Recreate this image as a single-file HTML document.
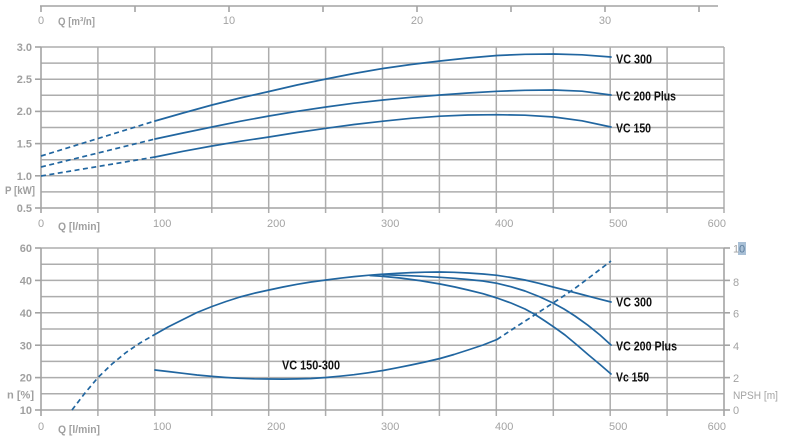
<!DOCTYPE html>
<html>
<head>
<meta charset="utf-8">
<style>
  html,body{margin:0;padding:0;background:#fff;}
  svg{display:block;}
  .g{stroke:#adadad;stroke-width:1.5;fill:none;}
  .ax{stroke:#a3a3a3;stroke-width:1.6;fill:none;}
  .c{stroke:#2166a0;stroke-width:1.7;fill:none;stroke-linejoin:round;stroke-linecap:round;}
  .d{stroke:#2166a0;stroke-width:1.7;fill:none;stroke-dasharray:5 3.5;}
  .yl{font-family:"Liberation Sans",sans-serif;font-size:11px;font-weight:bold;fill:#a0a0a0;}
  .xl{font-family:"Liberation Sans",sans-serif;font-size:11px;fill:#a3a3a3;}
  .lb{font-family:"Liberation Sans",sans-serif;font-size:12.5px;font-weight:bold;fill:#111;}
</style>
</head>
<body>
<svg width="785" height="445" viewBox="0 0 785 445" xmlns="http://www.w3.org/2000/svg">
  <!-- Top m3/h axis -->
  <line class="ax" x1="40" y1="6" x2="718" y2="6"/>
  <g class="ax">
    <line x1="41" y1="6" x2="41" y2="12"/>
    <line x1="135" y1="6" x2="135" y2="12"/>
    <line x1="229" y1="6" x2="229" y2="12"/>
    <line x1="323" y1="6" x2="323" y2="12"/>
    <line x1="417" y1="6" x2="417" y2="12"/>
    <line x1="511" y1="6" x2="511" y2="12"/>
    <line x1="605" y1="6" x2="605" y2="12"/>
    <line x1="699" y1="6" x2="699" y2="12"/>
  </g>
  <text class="xl" x="41" y="24" text-anchor="middle">0</text>
  <text class="yl" x="58" y="25" textLength="37" lengthAdjust="spacingAndGlyphs">Q [m³/n]</text>
  <text class="xl" x="229" y="24" text-anchor="middle">10</text>
  <text class="xl" x="417" y="24" text-anchor="middle">20</text>
  <text class="xl" x="605" y="24" text-anchor="middle">30</text>

  <!-- ===== TOP CHART GRID ===== -->
  <g class="g">
    <line x1="41" y1="47" x2="724" y2="47"/>
    <line x1="41" y1="63.1" x2="724" y2="63.1"/>
    <line x1="41" y1="79.2" x2="724" y2="79.2"/>
    <line x1="41" y1="95.3" x2="724" y2="95.3"/>
    <line x1="41" y1="111.4" x2="724" y2="111.4"/>
    <line x1="41" y1="127.5" x2="724" y2="127.5"/>
    <line x1="41" y1="143.6" x2="724" y2="143.6"/>
    <line x1="41" y1="159.7" x2="724" y2="159.7"/>
    <line x1="41" y1="175.8" x2="724" y2="175.8"/>
    <line x1="41" y1="191.9" x2="724" y2="191.9"/>
    <line x1="97.9" y1="47" x2="97.9" y2="213"/>
    <line x1="154.8" y1="47" x2="154.8" y2="213"/>
    <line x1="211.8" y1="47" x2="211.8" y2="213"/>
    <line x1="268.7" y1="47" x2="268.7" y2="213"/>
    <line x1="325.6" y1="47" x2="325.6" y2="213"/>
    <line x1="382.5" y1="47" x2="382.5" y2="213"/>
    <line x1="439.4" y1="47" x2="439.4" y2="213"/>
    <line x1="496.3" y1="47" x2="496.3" y2="213"/>
    <line x1="553.3" y1="47" x2="553.3" y2="213"/>
    <line x1="610.2" y1="47" x2="610.2" y2="213"/>
    <line x1="667.1" y1="47" x2="667.1" y2="213"/>
    <line x1="724" y1="47" x2="724" y2="213"/>
  </g>
  <g class="ax">
    <line x1="41" y1="47" x2="41" y2="213"/>
    <line x1="41" y1="208" x2="724" y2="208"/>
    <line x1="35" y1="47" x2="41" y2="47"/>
    <line x1="35" y1="79.2" x2="41" y2="79.2"/>
    <line x1="35" y1="111.4" x2="41" y2="111.4"/>
    <line x1="35" y1="143.6" x2="41" y2="143.6"/>
    <line x1="35" y1="175.8" x2="41" y2="175.8"/>
    <line x1="35" y1="208" x2="41" y2="208"/>
  </g>
  <!-- top y labels -->
  <text class="yl" x="32" y="51" text-anchor="end">3.0</text>
  <text class="yl" x="32" y="83" text-anchor="end">2.5</text>
  <text class="yl" x="32" y="115" text-anchor="end">2.0</text>
  <text class="yl" x="32" y="147.5" text-anchor="end">1.5</text>
  <text class="yl" x="32" y="180" text-anchor="end">1.0</text>
  <text class="yl" x="5" y="194" textLength="30" lengthAdjust="spacingAndGlyphs">P [kW]</text>
  <text class="yl" x="32" y="212" text-anchor="end">0.5</text>
  <!-- top x labels -->
  <text class="xl" x="41" y="227" text-anchor="middle">0</text>
  <text class="yl" x="58" y="230" textLength="42" lengthAdjust="spacingAndGlyphs">Q [l/min]</text>
  <text class="xl" x="153" y="227">100</text>
  <text class="xl" x="267" y="227">200</text>
  <text class="xl" x="381" y="227">300</text>
  <text class="xl" x="495" y="227">400</text>
  <text class="xl" x="609" y="227">500</text>
  <text class="xl" x="726" y="227" text-anchor="end">600</text>

  <!-- top curves -->
  <line class="d" x1="41" y1="156" x2="155" y2="121"/>
  <line class="d" x1="41" y1="167" x2="155" y2="139"/>
  <line class="d" x1="41" y1="176" x2="155" y2="157"/>
  <polyline class="c" points="155,121 183,113 212,105 240,98 269,91.5 297,85 326,79 354,73.5 383,68.5 411,64.5 440,61 468,58 497,55.5 525,54.3 554,54 582,54.8 611,57"/>
  <polyline class="c" points="155,139 183,133 212,127 240,121.3 269,116 297,111.3 326,107 354,103.2 383,100 411,97.3 440,95 468,93 497,91.3 525,90.3 554,90 582,91.2 611,95"/>
  <polyline class="c" points="155,157 183,151.3 212,146 240,141.3 269,137 297,132.5 326,128.3 354,124.5 383,121.2 411,118.3 440,116.2 468,115 497,114.7 525,115.2 554,117 582,120.8 611,127"/>
  <text class="lb" x="616" y="63.5" textLength="36" lengthAdjust="spacingAndGlyphs">VC 300</text>
  <text class="lb" x="616" y="100.5" textLength="60" lengthAdjust="spacingAndGlyphs">VC 200 Plus</text>
  <text class="lb" x="616" y="132.5" textLength="35" lengthAdjust="spacingAndGlyphs">VC 150</text>

  <!-- ===== BOTTOM CHART GRID ===== -->
  <g class="g">
    <line x1="41" y1="248" x2="724" y2="248"/>
    <line x1="41" y1="264.2" x2="724" y2="264.2"/>
    <line x1="41" y1="280.4" x2="724" y2="280.4"/>
    <line x1="41" y1="296.6" x2="724" y2="296.6"/>
    <line x1="41" y1="312.8" x2="724" y2="312.8"/>
    <line x1="41" y1="329" x2="724" y2="329"/>
    <line x1="41" y1="345.2" x2="724" y2="345.2"/>
    <line x1="41" y1="361.4" x2="724" y2="361.4"/>
    <line x1="41" y1="377.6" x2="724" y2="377.6"/>
    <line x1="41" y1="393.8" x2="724" y2="393.8"/>
    <line x1="97.9" y1="248" x2="97.9" y2="416"/>
    <line x1="154.8" y1="248" x2="154.8" y2="416"/>
    <line x1="211.8" y1="248" x2="211.8" y2="416"/>
    <line x1="268.7" y1="248" x2="268.7" y2="416"/>
    <line x1="325.6" y1="248" x2="325.6" y2="416"/>
    <line x1="382.5" y1="248" x2="382.5" y2="416"/>
    <line x1="439.4" y1="248" x2="439.4" y2="416"/>
    <line x1="496.3" y1="248" x2="496.3" y2="416"/>
    <line x1="553.3" y1="248" x2="553.3" y2="416"/>
    <line x1="610.2" y1="248" x2="610.2" y2="416"/>
    <line x1="667.1" y1="248" x2="667.1" y2="416"/>
  </g>
  <g class="ax">
    <line x1="41" y1="248" x2="41" y2="416"/>
    <line x1="724" y1="248" x2="724" y2="416"/>
    <line x1="41" y1="410" x2="724" y2="410"/>
    <line x1="35" y1="248" x2="41" y2="248"/>
    <line x1="35" y1="280.4" x2="41" y2="280.4"/>
    <line x1="35" y1="312.8" x2="41" y2="312.8"/>
    <line x1="35" y1="345.2" x2="41" y2="345.2"/>
    <line x1="35" y1="377.6" x2="41" y2="377.6"/>
    <line x1="35" y1="410" x2="41" y2="410"/>
    <line x1="724" y1="248" x2="730" y2="248"/>
    <line x1="724" y1="280.4" x2="730" y2="280.4"/>
    <line x1="724" y1="312.8" x2="730" y2="312.8"/>
    <line x1="724" y1="345.2" x2="730" y2="345.2"/>
    <line x1="724" y1="377.6" x2="730" y2="377.6"/>
    <line x1="724" y1="410" x2="730" y2="410"/>
  </g>
  <!-- bottom left labels -->
  <text class="yl" x="32" y="252" text-anchor="end">60</text>
  <text class="yl" x="32" y="284.5" text-anchor="end">40</text>
  <text class="yl" x="32" y="317" text-anchor="end">40</text>
  <text class="yl" x="32" y="349.5" text-anchor="end">30</text>
  <text class="yl" x="32" y="381.5" text-anchor="end">20</text>
  <text class="yl" x="7" y="398.5" textLength="27" lengthAdjust="spacingAndGlyphs">n [%]</text>
  <text class="yl" x="32" y="414" text-anchor="end">10</text>
  <!-- right labels -->
  <rect x="738" y="242" width="8" height="13" fill="#a9c0d6"/>
  <text class="xl" x="733" y="252.5">1</text>
  <text class="xl" x="739" y="252.5" style="fill:#5b7c9c">0</text>
  <text class="xl" x="733" y="286">8</text>
  <text class="xl" x="733" y="317.5">6</text>
  <text class="xl" x="733" y="350">4</text>
  <text class="xl" x="733" y="382">2</text>
  <text class="xl" x="733" y="399" textLength="45" lengthAdjust="spacingAndGlyphs">NPSH [m]</text>
  <text class="xl" x="733" y="414">0</text>
  <!-- bottom x labels -->
  <text class="xl" x="41" y="430" text-anchor="middle">0</text>
  <text class="yl" x="58" y="433" textLength="42" lengthAdjust="spacingAndGlyphs">Q [l/min]</text>
  <text class="xl" x="153" y="430">100</text>
  <text class="xl" x="267" y="430">200</text>
  <text class="xl" x="381" y="430">300</text>
  <text class="xl" x="495" y="430">400</text>
  <text class="xl" x="609" y="430">500</text>
  <text class="xl" x="726" y="430" text-anchor="end">600</text>

  <!-- bottom curves: efficiency -->
  <polyline class="d" points="72,410 85,393 98,377.5 112,364 126,352.5 140,343 153,335.5"/>
  <polyline class="c" points="153,335.5 168,327 183,319.5 197,312.5 212,306.5 226,301.5 240,297 254,293.3 269,290 283,287 297,284.3 311,282 326,280 340,278.2 354,276.6 368,275.3 383,274.2 397,273.3 411,272.6 425,272.2 440,272 454,272.3 468,273 483,274 497,275.3 511,277.5 525,280 539,283.3 553,287 568,290.8 582,294.5 596,298.2 611,302"/>
  <polyline class="c" points="383,274.6 400,275.3 420,276.2 440,277.3 455,278.3 468,279.5 483,281 497,283.3 511,286.7 525,291 539,296.5 553,303 564,309 575,316 588,325.3 600,335 611,345"/>
  <polyline class="c" points="370,275.5 383,276.4 400,278 420,280.6 440,284 455,287 468,290 483,293.7 497,298 511,303 525,309 535,314.5 545,321 555,327.8 565,335 577,345 588,354.5 600,364.5 611,374"/>
  <!-- NPSH -->
  <polyline class="c" points="155,370 169,371.6 183,373.3 197,375 212,376.4 226,377.5 240,378.3 254,378.8 269,379 283,379.1 297,378.9 311,378.5 326,377.5 340,376.2 354,374.7 368,372.8 383,370.5 397,367.8 411,365 425,362 440,358.5 454,354.5 468,350 483,345 497,339.5"/>
  <polyline class="d" points="497,339.5 517,326.3 533,316 553,303 573,289.8 592,275.5 611,261"/>
  <text class="lb" x="616" y="306.5" textLength="36" lengthAdjust="spacingAndGlyphs">VC 300</text>
  <text class="lb" x="616" y="350.5" textLength="61" lengthAdjust="spacingAndGlyphs">VC 200  Plus</text>
  <text class="lb" x="616" y="381.5" textLength="33" lengthAdjust="spacingAndGlyphs">Vc 150</text>
  <text class="lb" x="282" y="369.5" textLength="58" lengthAdjust="spacingAndGlyphs">VC 150-300</text>
</svg>
</body>
</html>
